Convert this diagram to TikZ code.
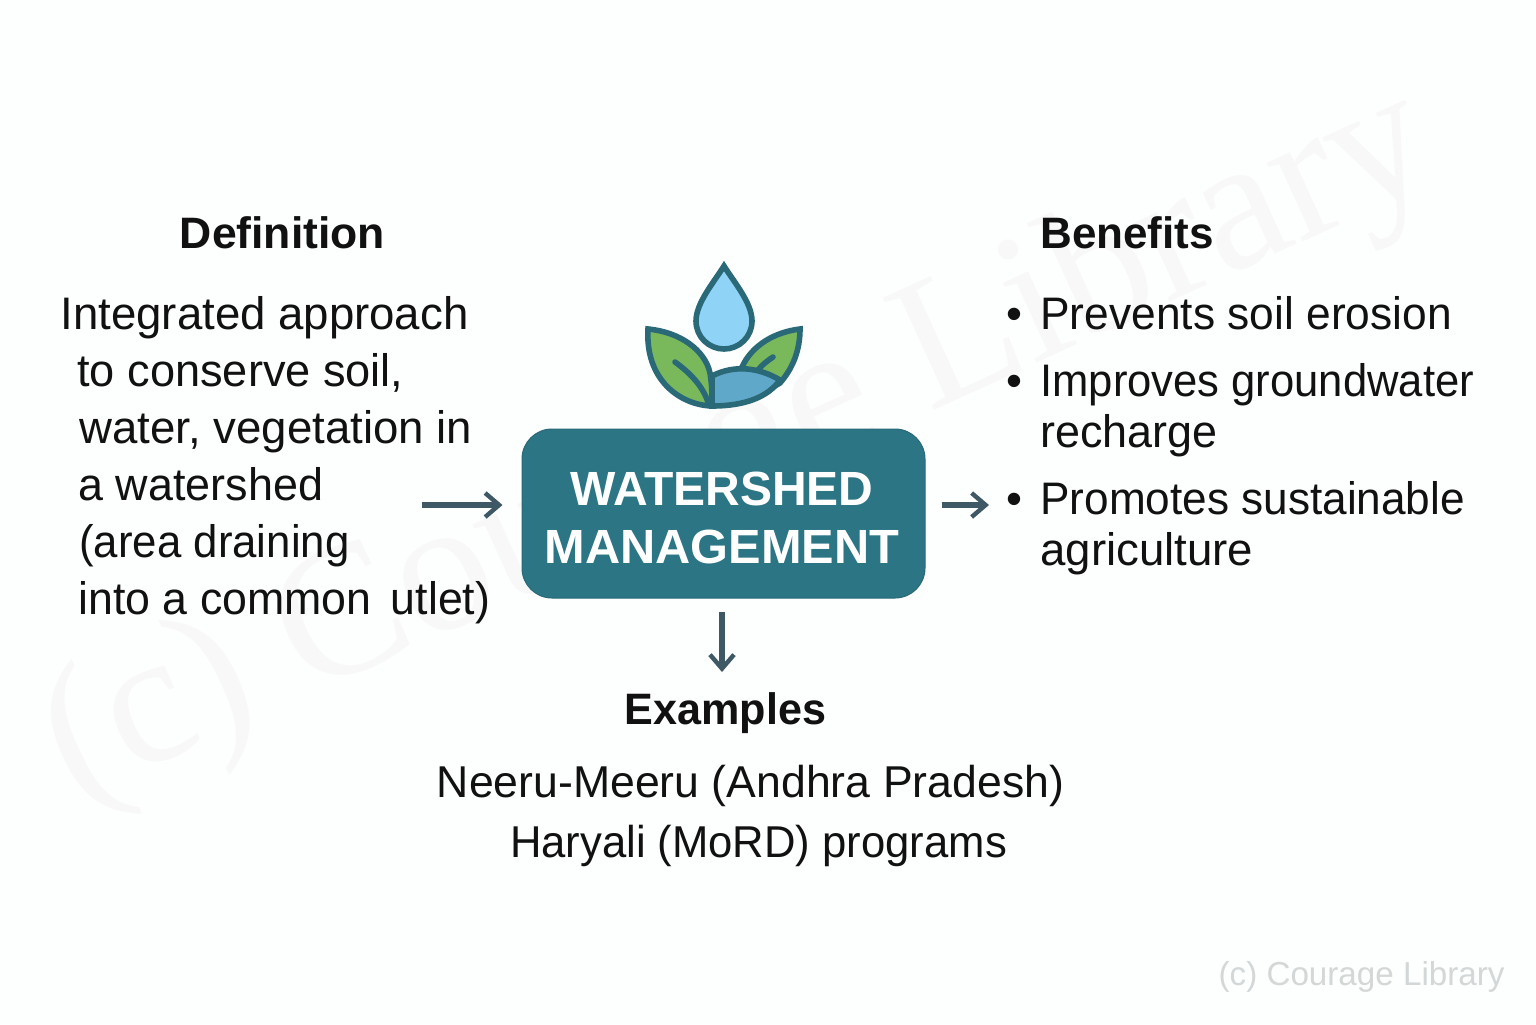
\documentclass[tikz,border=0pt]{standalone}
\usepackage{fontspec}
\setmainfont{Liberation Sans}
\newfontfamily\wmfont{Liberation Serif}
\newcommand{\fitx}[1]{\addfontfeature{FakeStretch=#1}}
\usetikzlibrary{arrows.meta}
\definecolor{bgc}{HTML}{FDFEFE}
\definecolor{wmark}{HTML}{F8F8F8}
\definecolor{teal}{HTML}{2B7585}
\definecolor{iconline}{HTML}{2A6A78}
\definecolor{arrowc}{HTML}{3F5866}
\definecolor{dropc}{HTML}{8FD3F7}
\definecolor{leafc}{HTML}{7AB85C}
\definecolor{hillc}{HTML}{5FA8C9}
\definecolor{inkc}{HTML}{111111}
\definecolor{credit}{HTML}{D3D7D8}
\tikzset{
  bodytext/.style={anchor=base west,inner sep=0pt,text=inkc,font=\fontsize{22.8}{27}\selectfont},
  bullettext/.style={anchor=base,inner sep=0pt,text=inkc,font=\fontsize{22.8}{27}\selectfont},
  headtext/.style={anchor=base,inner sep=0pt,text=inkc,font=\bfseries\fontsize{22}{26}\selectfont},
  centertext/.style={anchor=base,inner sep=0pt,text=inkc,font=\fontsize{22.3}{27}\selectfont},
  arr/.style={draw=arrowc,line width=2.6pt,-{Straight Barb[length=7pt,width=12pt,line width=2.2pt]}},
  icon/.style={draw=iconline,line width=2.8pt,line join=miter,miter limit=8,line cap=round},
}
\begin{document}
\begin{tikzpicture}[x=0.5pt,y=-0.5pt]
\useasboundingbox (0,0) rectangle (1536,1024);
\fill[bgc] (0,0) rectangle (1536,1024);
\node[anchor=base west,inner sep=0pt,rotate=24.5,text=wmark,font=\wmfont\fontsize{94}{94}\selectfont] (wm) at (74,802) {(c) Courage Library};

% icon
\draw[icon,fill=leafc] (742,367) .. controls (752,345) and (775,332) .. (800,329) .. controls (800,350) and (793,368) .. (780,383) -- (750,400) -- (725,385) -- cycle;
\draw[icon] (773,357) .. controls (767,361) and (762,365) .. (758,370);
\draw[icon,fill=hillc] (712,376) .. controls (735,364) and (760,368) .. (780,380) .. controls (768,397) and (745,406) .. (712,406) -- cycle;
\draw[icon,fill=leafc] (648,329) .. controls (680,332) and (705,350) .. (710,373) .. controls (712,385) and (712,395) .. (712,406) .. controls (680,405) and (645,380) .. (648,329) -- cycle;
\draw[icon] (675,362) .. controls (690,373) and (702,385) .. (708,402);
\draw[icon,fill=dropc] (724,266) .. controls (714,282) and (696,303) .. (696,321) .. controls (696,337) and (709,349) .. (724,349) .. controls (739,349) and (752,337) .. (752,321) .. controls (752,303) and (734,282) .. (724,266) -- cycle;

% central box
\node[draw=teal!90!black,line width=0.5pt,fill=teal,rounded corners=15pt,minimum width=201.5pt,minimum height=84.5pt,inner sep=0pt] (box) at (723.5,513.5) {};
\node[anchor=center,align=center,inner sep=0pt,text=white,font=\bfseries\fontsize{24}{29}\selectfont] (boxlabel) at (722,518) {{\fitx{1.0}WATERSHED}\\{\fitx{1.015}MANAGEMENT}};

% left
\node[headtext] (defhead) at (282.5,248) {\fitx{1.012}Definition};
\node[bodytext] (d1) at (60,329) {Integrated approach};
\node[bodytext] (d2) at (77,386) {\fitx{0.99}to conserve soil,};
\node[bodytext] (d3) at (79,443) {water, vegetation in};
\node[bodytext] (d4) at (78,500) {\fitx{0.985}a watershed};
\node[bodytext] (d5) at (79,557) {\fitx{0.96}(area draining};
\node[bodytext] (d6) at (78,614) {\fitx{0.98}into a common\hspace{3.5pt} utlet)};

% right
\node[headtext,anchor=base west] (benhead) at (1040,248) {Benefits};
\node[bullettext] (b1) at (1014,329) {•};
\node[bodytext] (b1t) at (1040,329) {\fitx{0.972}Prevents soil erosion};
\node[bullettext] (b2) at (1014,396) {•};
\node[bodytext] (b2t) at (1040,396) {\fitx{0.956}Improves groundwater};
\node[bodytext] (b2u) at (1040,447) {\fitx{0.985}recharge};
\node[bullettext] (b3) at (1014,514) {•};
\node[bodytext] (b3t) at (1040,514) {\fitx{0.968}Promotes sustainable};
\node[bodytext] (b3u) at (1040,565) {agriculture};

% bottom
\node[headtext] (exhead) at (725.5,724) {\fitx{0.98}Examples};
\node[centertext] (e1) at (750.5,797) {Neeru-Meeru (Andhra Pradesh)};
\node[centertext] (e2) at (758.5,857) {\fitx{0.978}Haryali (MoRD) programs};

\node[anchor=base east,inner sep=0pt,text=credit,font=\fontsize{16.6}{20}\selectfont] (cr) at (1505,985) {(c) Courage Library};

% connectors
\coordinate (defout) at (422,505);
\coordinate (benin) at (989,505);
\coordinate (exin) at (722,672);
\draw[arr,shorten >=9.5pt] (defout) -- (defout -| box.west);
\draw[arr,shorten <=8pt] (benin -| box.east) -- (benin);
\draw[arr,shorten <=6.5pt] (exin |- box.south) -- (exin);
\end{tikzpicture}
\end{document}
